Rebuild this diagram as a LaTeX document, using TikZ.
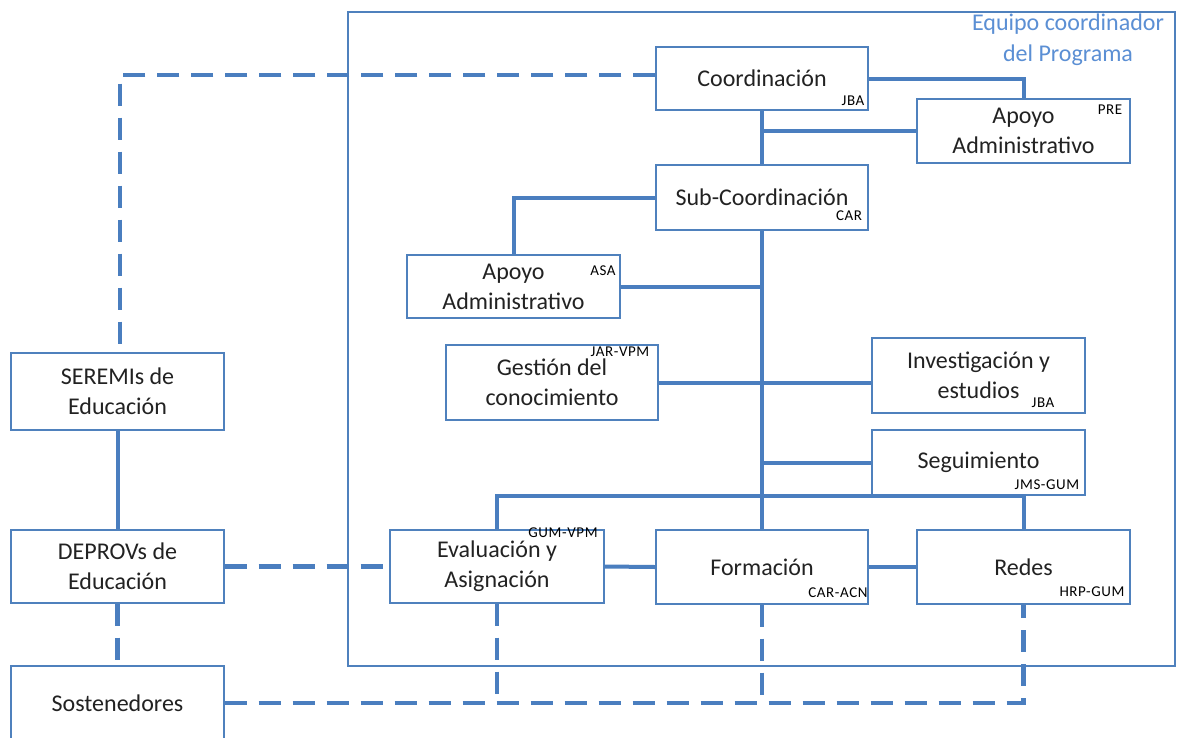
\documentclass[tikz,border=0pt]{standalone}
\usepackage{fontspec}
\setmainfont{Carlito}
\definecolor{frame}{HTML}{4F81BD}
\definecolor{link}{HTML}{4A7EBF}
\definecolor{title}{HTML}{5B8FD4}
\definecolor{ink}{HTML}{222222}
\begin{document}
\begin{tikzpicture}[x=1pt,y=-1pt,
  unit/.style={draw=frame, line width=1.4pt, fill=white, align=center,
    inner sep=0pt, text=ink, font=\fontsize{24}{30}\selectfont},
  tag/.style={inner sep=0pt, text=black, font=\fontsize{15}{15}\selectfont\addfontfeature{LetterSpace=4}},
  solidlink/.style={draw=link, line width=4pt},
  dashlink/.style={draw=link, line width=4.5pt, dash pattern=on 22pt off 12pt},
]
\clip (0,0) rectangle (1177,737);
\fill[white] (0,0) rectangle (1177,737);

% program team frame and its title
\node[draw=frame, line width=1.4pt, minimum width=827pt, minimum height=654pt,
  inner sep=0pt] (team) at (761.5,339) {};
\node[align=center, text=title, inner sep=0pt,
  font=\fontsize{24}{31}\selectfont] (teamtitle) at (1068,40)
  {Equipo coordinador\\del Programa};

% units of the team
\node[unit, minimum width=212pt, minimum height=63pt] (coord) at (762,78.5) {Coordinación};
\node[unit, minimum width=213pt, minimum height=64pt] (apoyoA) at (1023.5,131) {Apoyo\\Administrativo};
\node[unit, minimum width=212pt, minimum height=65pt] (subc) at (762,197.5) {Sub-Coordinación};
\node[unit, minimum width=213pt, minimum height=63pt] (apoyoB) at (513.5,286.5) {Apoyo\\Administrativo};
\node[unit, minimum width=212pt, minimum height=75pt] (gest) at (552,382.5) {Gestión del\\conocimiento};
\node[unit, minimum width=213pt, minimum height=75pt] (inv) at (978.5,375.5) {Investigación y\\estudios};
\node[unit, minimum width=213pt, minimum height=65pt] (seg) at (978.5,462.5) {Seguimiento};
\node[unit, minimum width=214pt, minimum height=73pt] (eval) at (497,566.5) {Evaluación y\\Asignación};
\node[unit, minimum width=212pt, minimum height=74pt] (form) at (762,567) {Formación};
\node[unit, minimum width=213pt, minimum height=74pt] (redes) at (1023.5,567) {Redes};

% outside bodies
\node[unit, minimum width=213pt, minimum height=77pt] (seremi) at (117.5,391.5) {SEREMIs de\\Educación};
\node[unit, minimum width=213pt, minimum height=73pt] (deprov) at (117.5,566.5) {DEPROVs de\\Educación};
\node[unit, minimum width=213pt, minimum height=74pt] (sost) at (117.5,703) {Sostenedores};

% initials of those in charge
\node[tag] (tcoord) at (853,101) {JBA};
\node[tag] (tapoyoA) at (1110,110) {PRE};
\node[tag] (tsubc) at (849,216) {CAR};
\node[tag] (tapoyoB) at (603,271) {ASA};
\node[tag] (tgest) at (620,352) {JAR-VPM};
\node[tag] (tinv) at (1043,403) {JBA};
\node[tag] (tseg) at (1047,485) {JMS-GUM};
\node[tag] (teval) at (563,533) {GUM-VPM};
\node[tag] (tform) at (838,593) {CAR-ACN};
\node[tag] (tredes) at (1092,592) {HRP-GUM};

% solid lines of the hierarchy
\draw[solidlink] (coord.east) -| (apoyoA.north);
\draw[solidlink] (coord.south) -- (subc.north);
\draw[solidlink] (coord.south |- apoyoA.west) -- (apoyoA.west);
\draw[solidlink] (subc.west) -| (apoyoB.north);
\draw[solidlink] (subc.south) -- (form.north);
\draw[solidlink] (apoyoB.east) -- (subc.south |- apoyoB.east);
\draw[solidlink] (gest.east) -- (gest.east -| inv.west);
\draw[solidlink] (subc.south |- seg.west) -- (seg.west);
\coordinate (bus) at (762,496);
\draw[solidlink] (eval.north) |- (bus) -| (redes.north);
\draw[solidlink] (eval.east) -- (form.west);
\draw[solidlink] (form.east) -- (redes.west);
\draw[solidlink] (seremi.south) -- (deprov.north);

% dashed lines of coordination with outside bodies
\coordinate (toSeremi) at (120,75);
\draw[dashlink] (coord.west |- toSeremi) -- (toSeremi) -- (toSeremi |- seremi.north);
\draw[dashlink] (deprov.east) -- (eval.west);
\draw[dashlink] (deprov.south) -- (sost.north);
\draw[dashlink] (sost.east) -| (redes.south);
\draw[dashlink] (eval.south) -- (eval.south |- sost.east);
\draw[dashlink] (form.south) -- (form.south |- sost.east);
\end{tikzpicture}
\end{document}
